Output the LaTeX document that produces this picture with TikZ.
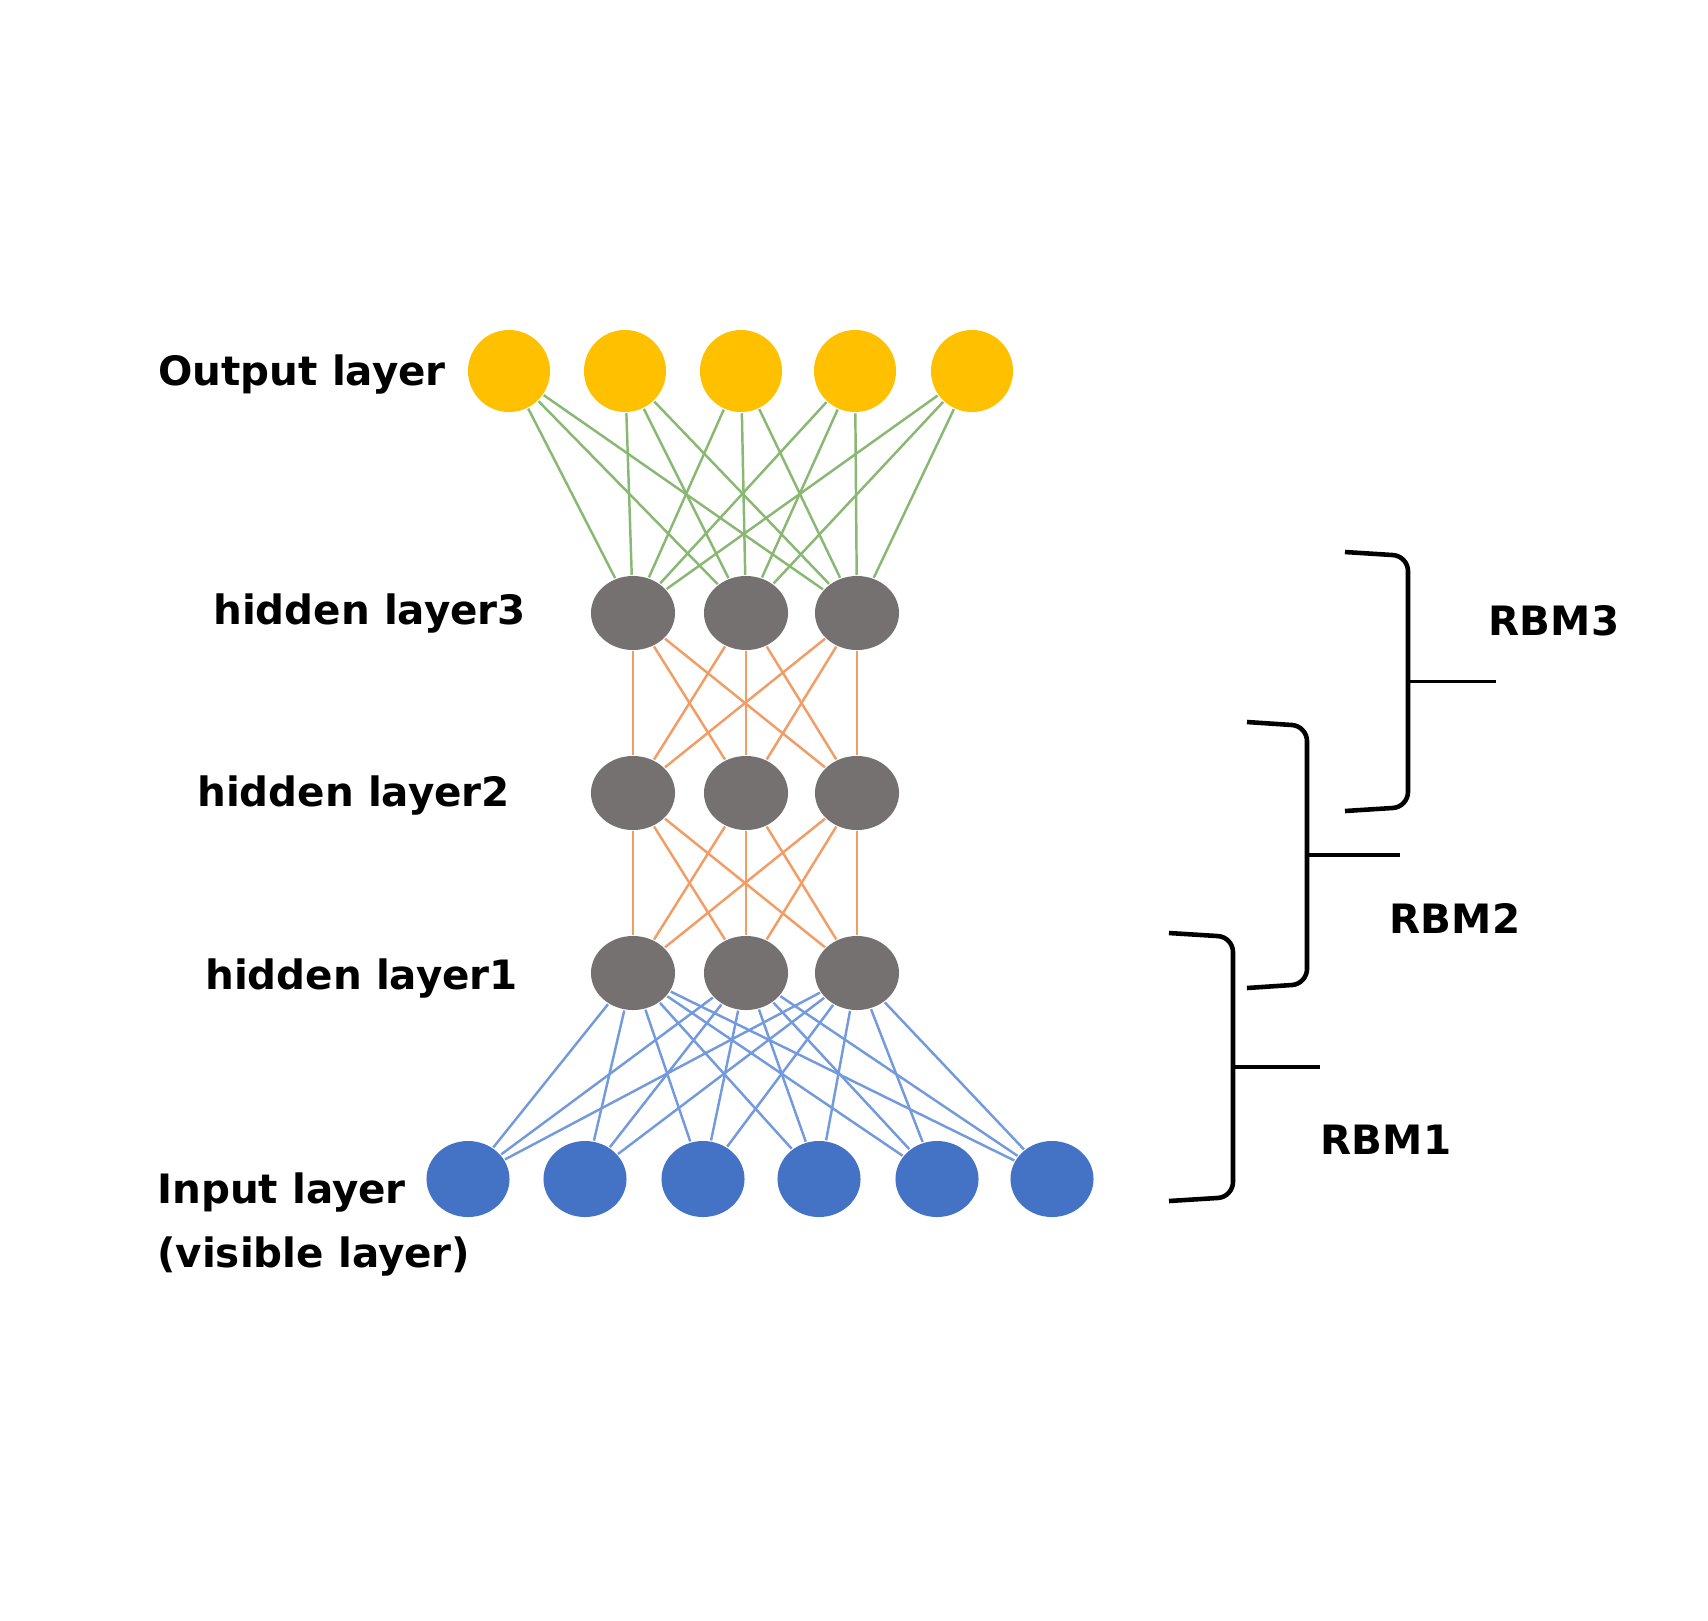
\documentclass[tikz,border=0pt]{standalone}
\usepackage{fontspec}
\setmainfont{DejaVu Sans}
\usetikzlibrary{shapes.geometric}
\definecolor{jaune}{HTML}{FFC000}
\definecolor{gris}{HTML}{767171}
\definecolor{bleu}{HTML}{4472C4}
\definecolor{vertlien}{HTML}{88B872}
\definecolor{orangelien}{HTML}{F29D66}
\definecolor{bleulien}{HTML}{739ADD}
\tikzset{
  neurone/.style={ellipse, inner sep=0pt, minimum width=0.84cm, minimum height=0.76cm},
  sortie/.style={neurone, fill=jaune, minimum width=0.82cm, minimum height=0.82cm},
  cache/.style={neurone, fill=gris, minimum height=0.74cm},
  entree/.style={neurone, fill=bleu, minimum width=0.83cm},
  etiquette/.style={font=\fontsize{11.5}{18}\selectfont\bfseries, inner sep=0pt},
  accolade/.style={line width=1.3pt, rounded corners=0.15cm}
}
\begin{document}
\begin{tikzpicture}[x=0.01cm, y=-0.01cm, line width=0.7pt]
  \useasboundingbox (0,0) rectangle (1708,1620);
  % couche de sortie
  \node[sortie] (o1) at (509,371) {};
  \node[sortie] (o2) at (625,371) {};
  \node[sortie] (o3) at (741,371) {};
  \node[sortie] (o4) at (855,371) {};
  \node[sortie] (o5) at (972,371) {};
  % couches cachees
  \node[cache] (h31) at (633,613) {};
  \node[cache] (h32) at (746,613) {};
  \node[cache] (h33) at (857,613) {};
  \node[cache] (h21) at (633,793) {};
  \node[cache] (h22) at (746,793) {};
  \node[cache] (h23) at (857,793) {};
  \node[cache] (h11) at (633,973) {};
  \node[cache] (h12) at (746,973) {};
  \node[cache] (h13) at (857,973) {};
  % couche d'entree
  \node[entree] (i1) at (468,1179) {};
  \node[entree] (i2) at (585,1179) {};
  \node[entree] (i3) at (703,1179) {};
  \node[entree] (i4) at (819,1179) {};
  \node[entree] (i5) at (937,1179) {};
  \node[entree] (i6) at (1052,1179) {};
  % liaisons
  \foreach \a in {1,...,5}
    \foreach \b in {1,2,3}
      \draw[vertlien] (o\a) -- (h3\b);
  \foreach \a in {1,2,3}
    \foreach \b in {1,2,3} {
      \draw[orangelien] (h3\a) -- (h2\b);
      \draw[orangelien] (h2\a) -- (h1\b);
    }
  \foreach \a in {1,2,3}
    \foreach \b in {1,...,6}
      \draw[bleulien] (h1\a) -- (i\b);
  % noms des couches
  \node[etiquette, anchor=east] (lo) at (447,374) {Output layer};
  \node[etiquette, anchor=west] (l3) at (212,613) {hidden layer3};
  \node[etiquette, anchor=west] (l2) at (196,795) {hidden layer2};
  \node[etiquette, anchor=west] (l1) at (204,978) {hidden layer1};
  \node[etiquette, anchor=north west, align=left] (li) at (156,1172) {Input layer\\(visible layer)};
  % accolades RBM
  \foreach \n/\g/\v/\hh/\bb/\d in {3/1345/1408/552/811/1496, 2/1247/1307/722/988/1400, 1/1169/1233/933/1201/1320} {
    \draw[accolade] (\g,\hh) -- (\v,\hh+4) -- (\v,\bb-4) -- (\g,\bb);
    \coordinate (pointe\n) at (\v,{(\hh+\bb)/2});
    \coordinate (bout\n) at (\d,{(\hh+\bb)/2});
    \draw[line width=1.1pt] (pointe\n) -- (bout\n);
  }
  \node[etiquette] (r3) at (1554,621) {RBM3};
  \node[etiquette] (r2) at (1455,918) {RBM2};
  \node[etiquette] (r1) at (1386,1140) {RBM1};
\end{tikzpicture}
\end{document}
